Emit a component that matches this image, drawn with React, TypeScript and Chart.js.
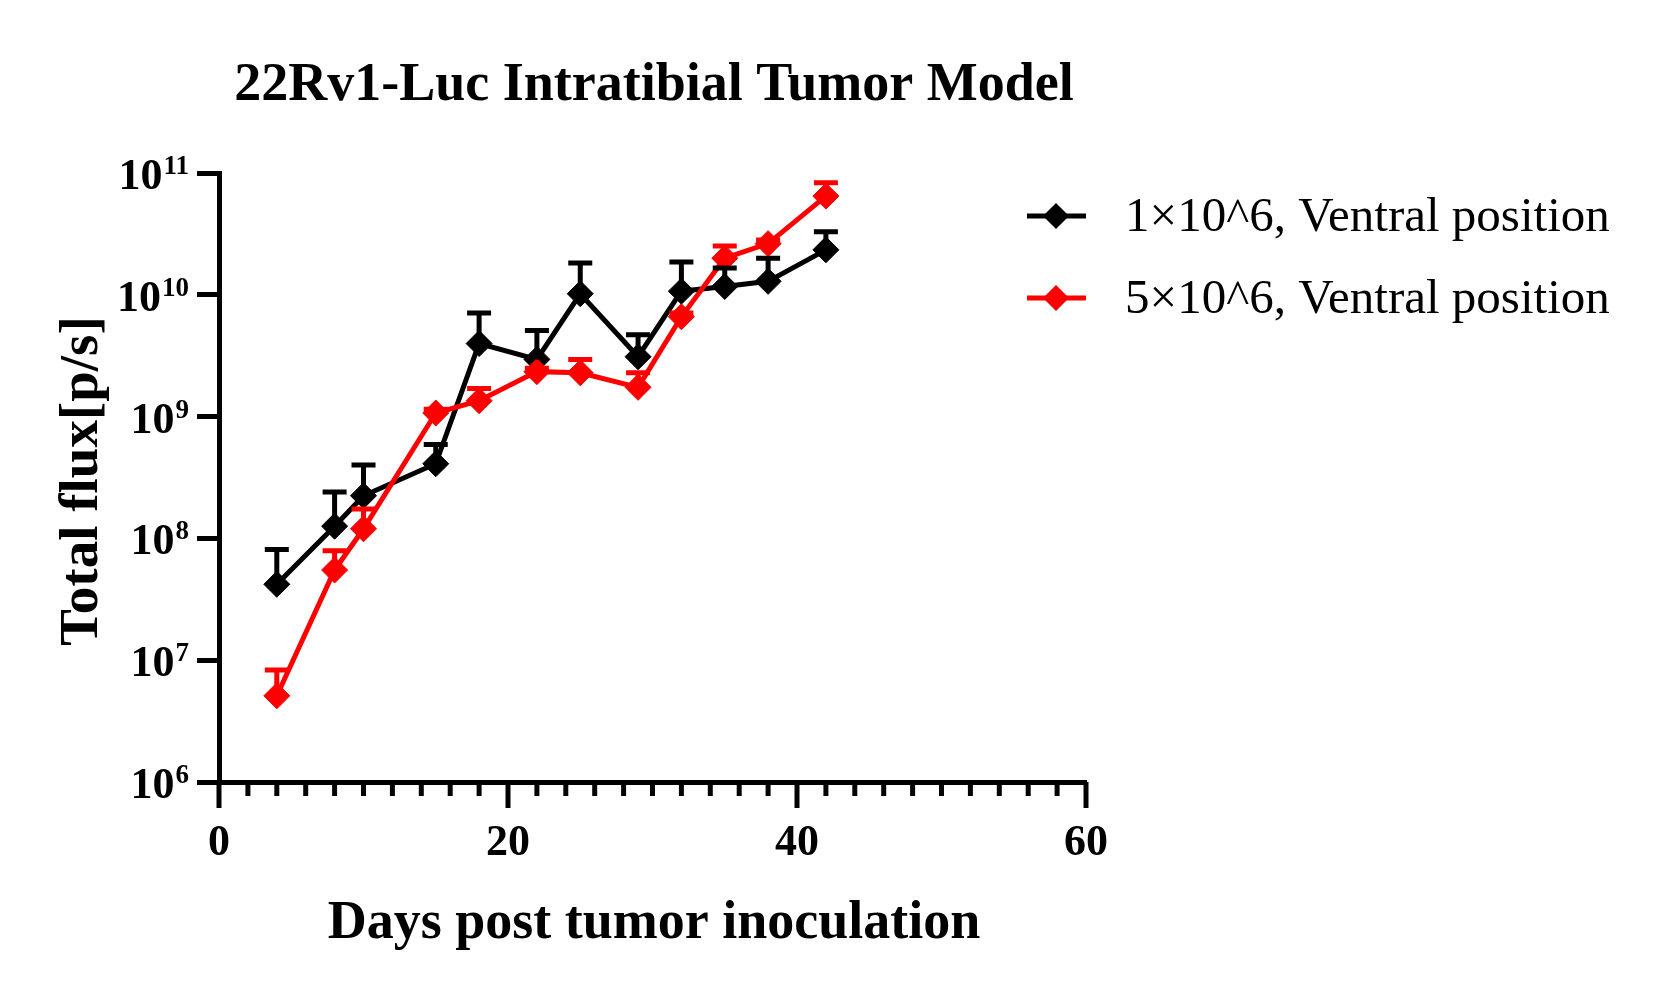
import { Chart, registerables, type ChartConfiguration, type Plugin } from "chart.js";
import { useEffect, useRef } from "react";

Chart.register(...registerables);

const FONT = '"Liberation Serif", "Times New Roman", serif';

const days = [4, 8, 10, 15, 18, 22, 25, 29, 32, 35, 38, 42];
const lowDoseMean = [4.2e7, 1.26e8, 2.24e8, 4.1e8, 3.98e9, 2.95e9, 1.02e10, 3.1e9, 1.07e10, 1.17e10, 1.29e10, 2.34e10];
const lowDoseSem = [3.9e7, 1.14e8, 1.76e8, 1.8e8, 3.1e9, 2.15e9, 8.0e9, 1.6e9, 7.9e9, 4.9e9, 7.1e9, 9.6e9];
const highDoseMean = [5.1e6, 5.5e7, 1.2e8, 1.07e9, 1.35e9, 2.34e9, 2.29e9, 1.74e9, 6.6e9, 2.0e10, 2.63e10, 6.46e10];
const highDoseSem = [3.2e6, 2.4e7, 5.4e7, 8e7, 3.5e8, 1.6e8, 6.6e8, 5.5e8, 5e8, 5.1e9, 1.9e9, 1.84e10];

const seriesLabels = ["1×10^6, Ventral position", "5×10^6, Ventral position"];
const seriesColors = ["#000000", "#ff0000"];
const yExponents = [6, 7, 8, 9, 10, 11];

const chartTitle = "22Rv1-Luc Intratibial Tumor Model";
const xTitle = "Days post tumor inoculation";
const yTitle = "Total flux[p/s]";

const errorSets = [lowDoseSem, highDoseSem];
const means = [lowDoseMean, highDoseMean];

const errorBars: Plugin<"line"> = {
  id: "errorBars",
  afterDatasetsDraw(chart) {
    const { ctx } = chart;
    const y = chart.scales.y;
    ctx.save();
    ctx.lineWidth = 5;
    means.forEach((series, i) => {
      const meta = chart.getDatasetMeta(i);
      ctx.strokeStyle = seriesColors[i];
      series.forEach((m, j) => {
        const px = meta.data[j].x;
        const y0 = y.getPixelForValue(m);
        const y1 = y.getPixelForValue(m + errorSets[i][j]);
        ctx.beginPath();
        ctx.moveTo(px, y0);
        ctx.lineTo(px, y1);
        ctx.moveTo(px - 12, y1);
        ctx.lineTo(px + 12, y1);
        ctx.stroke();
      });
    });
    ctx.restore();
  },
};

const decorations: Plugin<"line"> = {
  id: "decorations",
  afterDraw(chart) {
    const { ctx, chartArea } = chart;
    const x = chart.scales.x;
    const y = chart.scales.y;
    ctx.save();

    // x ticks: long every 20 days, short every 2
    ctx.strokeStyle = "#000";
    ctx.lineWidth = 5;
    for (let d = 0; d <= 60; d += 2) {
      const px = x.getPixelForValue(d);
      const len = d % 20 === 0 ? 26 : 14;
      ctx.beginPath();
      ctx.moveTo(px, chartArea.bottom);
      ctx.lineTo(px, chartArea.bottom + len);
      ctx.stroke();
    }

    // y tick labels 10^n
    ctx.fillStyle = "#000";
    ctx.textBaseline = "alphabetic";
    ctx.textAlign = "left";
    yExponents.forEach((e) => {
      const py = y.getPixelForValue(10 ** e);
      ctx.font = `bold 27px ${FONT}`;
      const supW = ctx.measureText(String(e)).width;
      const supX = 189 - supW;
      ctx.fillText(String(e), supX, py + 1);
      ctx.font = `bold 44px ${FONT}`;
      const baseW = ctx.measureText("10").width;
      ctx.fillText("10", supX - baseW - 1, py + 16);
    });

    // titles
    ctx.textAlign = "center";
    ctx.font = `bold 54px ${FONT}`;
    ctx.fillText(chartTitle, 654, 100);
    ctx.fillText(xTitle, 654, 938);
    ctx.save();
    ctx.font = `bold 55px ${FONT}`;
    ctx.translate(97, 481);
    ctx.rotate(-Math.PI / 2);
    ctx.fillText(yTitle, 0, 0);
    ctx.restore();

    // legend
    ctx.textAlign = "left";
    ctx.textBaseline = "middle";
    ctx.font = `49px ${FONT}`;
    seriesLabels.forEach((label, i) => {
      const ly = 216 + i * 82;
      ctx.strokeStyle = seriesColors[i];
      ctx.fillStyle = seriesColors[i];
      ctx.lineWidth = 5;
      ctx.beginPath();
      ctx.moveTo(1027, ly);
      ctx.lineTo(1086, ly);
      ctx.stroke();
      ctx.beginPath();
      ctx.moveTo(1056 - 13, ly);
      ctx.lineTo(1056, ly - 13);
      ctx.lineTo(1056 + 13, ly);
      ctx.lineTo(1056, ly + 13);
      ctx.closePath();
      ctx.fill();
      ctx.fillStyle = "#000";
      ctx.fillText(label, 1125, ly + 2);
    });

    ctx.restore();
  },
};

function makeDataset(i: number) {
  return {
    label: seriesLabels[i],
    data: days.map((d, j) => ({ x: d, y: means[i][j] })),
    borderColor: seriesColors[i],
    backgroundColor: seriesColors[i],
    borderWidth: 5,
    pointStyle: "rectRot" as const,
    pointRadius: 13,
    pointBorderWidth: 1,
    pointBackgroundColor: seriesColors[i],
    tension: 0,
    clip: false as const,
    order: i === 0 ? 1 : 0,
  };
}

function getConfig(): ChartConfiguration<"line"> {
  return {
    type: "line",
    data: { datasets: [makeDataset(0), makeDataset(1)] },
    options: {
      animation: false,
      responsive: true,
      maintainAspectRatio: false,
      layout: { padding: { top: 173, right: 568, left: 0, bottom: 0 } },
      plugins: {
        legend: { display: false },
        tooltip: { enabled: false },
      },
      scales: {
        x: {
          type: "linear",
          min: 0,
          max: 60,
          afterFit(scale) {
            scale.height = 215;
          },
          grid: { display: false, drawTicks: false },
          border: { display: true, width: 5, color: "#000" },
          ticks: {
            stepSize: 20,
            color: "#000",
            font: { family: FONT, size: 44, weight: "bold" },
            padding: 35,
            maxRotation: 0,
          },
        },
        y: {
          type: "logarithmic",
          min: 1e6,
          max: 1e11,
          afterFit(scale) {
            scale.width = 219;
          },
          afterBuildTicks(scale) {
            scale.ticks = yExponents.map((e) => ({ value: 10 ** e }));
          },
          grid: {
            drawOnChartArea: false,
            drawTicks: true,
            tickLength: 22,
            lineWidth: 5,
            color: "#000",
          },
          border: { display: true, width: 5, color: "#000" },
          ticks: { display: false },
        },
      },
    },
    plugins: [errorBars, decorations],
  };
}

export default function App() {
  const canvasRef = useRef<HTMLCanvasElement>(null);

  useEffect(() => {
    if (!canvasRef.current) {
      return;
    }
    const chart = new Chart(canvasRef.current, getConfig());
    return () => {
      chart.destroy();
    };
  }, []);

  return (
    <div style={{ position: "absolute", left: 0, top: 0, width: 1654, height: 997, background: "#fff" }}>
      <canvas ref={canvasRef} />
    </div>
  );
}
